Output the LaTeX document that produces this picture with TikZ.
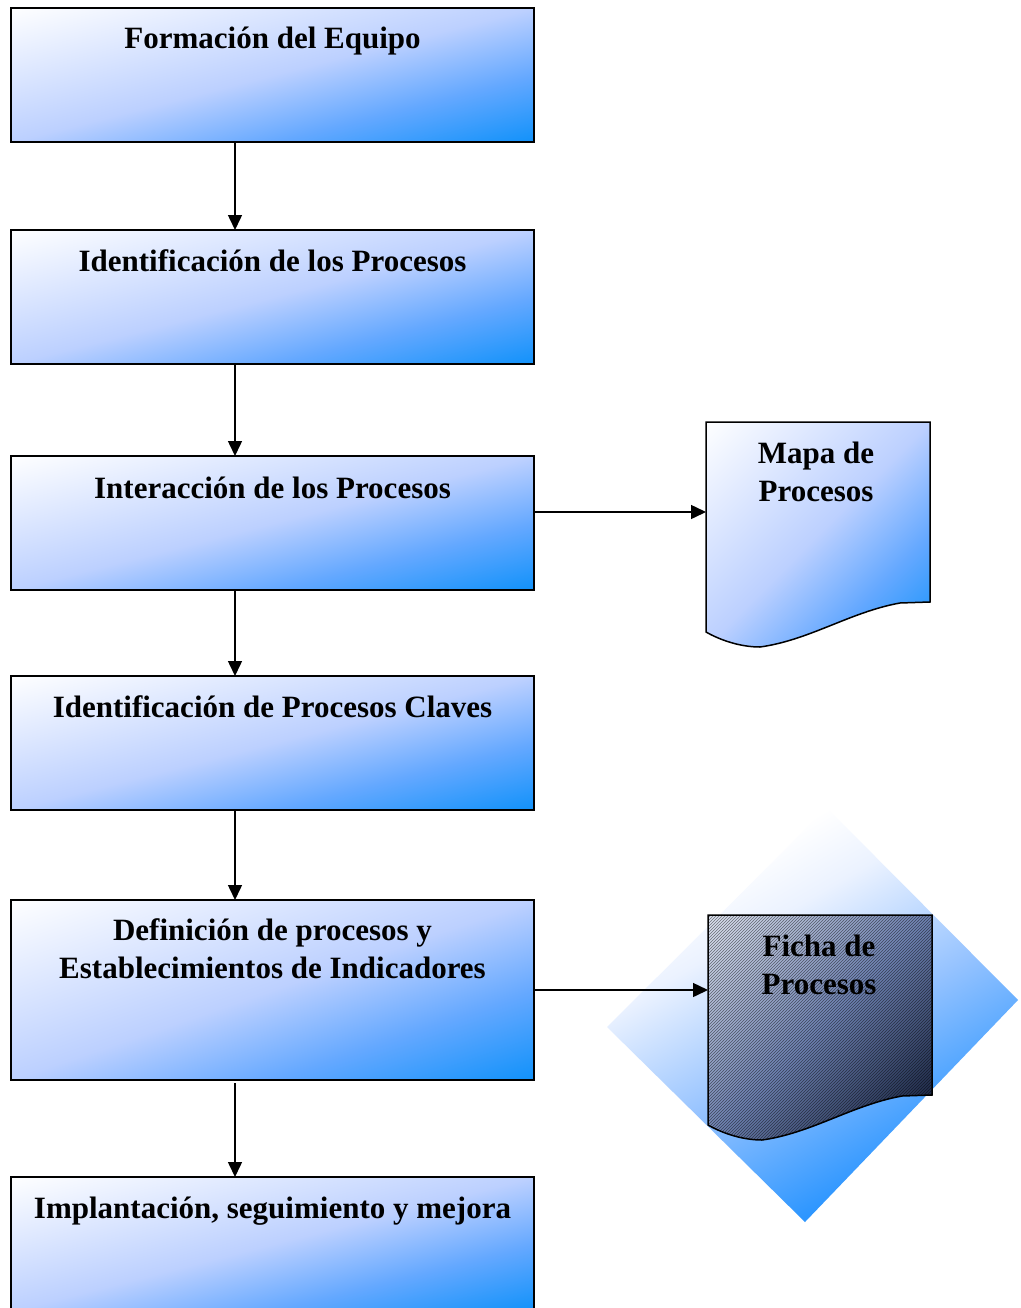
\documentclass[tikz,border=0pt]{standalone}
\usepackage{fontspec}
\setmainfont{Liberation Serif}
\usetikzlibrary{arrows.meta,patterns,backgrounds}
\definecolor{bm}{RGB}{188,208,255}
\definecolor{bq}{RGB}{100,168,255}
\definecolor{bb}{RGB}{15,145,250}
\definecolor{dp}{RGB}{235,242,255}
\definecolor{dm}{RGB}{150,195,255}
\definecolor{db}{RGB}{45,150,255}
\definecolor{fl}{RGB}{225,230,242}
\definecolor{fm}{RGB}{110,130,178}
\definecolor{fb}{RGB}{10,20,45}
\pgfdeclareverticalshading{diagsh}{100bp}{color(0bp)=(bb); color(25bp)=(bq); color(50bp)=(bm); color(100bp)=(white)}
\pgfdeclareverticalshading{diash}{100bp}{color(0bp)=(db); color(20bp)=(db); color(45bp)=(dm); color(68bp)=(dp); color(80bp)=(white); color(100bp)=(white)}
\pgfdeclareverticalshading{fichsh}{100bp}{color(0bp)=(fb); color(50bp)=(fm); color(100bp)=(fl)}
\begin{document}
\begin{tikzpicture}[x=1pt,y=-1pt,
  grad/.style n args={3}{path picture={
    \begin{scope}[shift={(path picture bounding box.center)}, xscale=#2, yscale=#3, rotate=45]
      \node[transform shape, inner sep=0pt, outer sep=0pt] {\pgfuseshading{#1}};
    \end{scope}}},
  box/.style={draw=black, line width=1.5pt, rectangle, minimum width=523pt, minimum height=134pt,
    anchor=north west, inner sep=0pt, outer sep=0pt},
  lbl/.style={font=\bfseries\fontsize{31}{38}\selectfont, align=center, anchor=base, inner sep=0pt},
  arr/.style={line width=1.5pt, -{Triangle[length=15pt,width=14pt]}},
  doc/.style={draw=black, line width=1.5pt, line join=miter}]
\useasboundingbox (0,0) rectangle (1020,1308);

% main boxes
\node[box] (b1) at (11,8) {};
\node[box] (b2) at (11,230) {};
\node[box] (b3) at (11,456) {};
\node[box] (b4) at (11,676) {};
\node[box, minimum height=180pt] (b5) at (11,900) {};
\node[box] (b6) at (11,1177) {};

\begin{pgfonlayer}{background}
  \fill[white] (0,0) rectangle (1020,1308);
  \path[grad={diagsh}{7.45}{1.91}] (b1.north west) rectangle (b1.south east);
  \path[grad={diagsh}{7.45}{1.91}] (b2.north west) rectangle (b2.south east);
  \path[grad={diagsh}{7.45}{1.91}] (b3.north west) rectangle (b3.south east);
  \path[grad={diagsh}{7.45}{1.91}] (b4.north west) rectangle (b4.south east);
  \path[grad={diagsh}{7.45}{2.56}] (b5.north west) rectangle (b5.south east);
  \path[grad={diagsh}{7.45}{1.91}] (b6.north west) rectangle (b6.south east);
\end{pgfonlayer}

\node[lbl] (t1) at ([yshift=-41pt]b1.north) {Formación del Equipo};
\node[lbl] (t2) at ([yshift=-41pt]b2.north) {Identificación de los Procesos};
\node[lbl] (t3) at ([yshift=-42pt]b3.north) {Interacción de los Procesos};
\node[lbl] (t4) at ([yshift=-41pt]b4.north) {Identificación de Procesos Claves};
\node[lbl] (t5) at ([yshift=-78pt]b5.north) {Definición de procesos y\\Establecimientos de Indicadores};
\node[lbl] (t6) at ([yshift=-41pt]b6.north) {Implantación, seguimiento y mejora};

% vertical arrows
\coordinate (ax) at (235,0);
\draw[arr] (ax |- b1.south) -- (ax |- b2.north);
\draw[arr] (ax |- b2.south) -- (ax |- b3.north);
\draw[arr] (ax |- b3.south) -- (ax |- b4.north);
\draw[arr] (ax |- b4.south) -- (ax |- b5.north);
\draw[arr, shorten <=3pt] (ax |- b5.south) -- (ax |- b6.north);

% Mapa de Procesos document
\path[doc, grad={diagsh}{3.19}{3.2}, shift={(706,422)}]
  (0,0) -- (224,0) -- (224,180) -- (194,181) .. controls (144,190) and (104,218) .. (54,225)
  .. controls (34,225) and (14,218) .. (0,210) -- cycle;
\coordinate (mapain) at (706,512);
\draw[arr] (b3.east |- mapain) -- (mapain);
\node[lbl] (tm) at (816,501) {Mapa de\\Procesos};

% Ficha de Procesos: diamond backdrop
\path[path picture={
    \begin{scope}[shift={(path picture bounding box.center)}, xscale=5.63, yscale=5.68, rotate=30]
      \node[transform shape, inner sep=0pt, outer sep=0pt] {\pgfuseshading{diash}};
    \end{scope}}]
  (827,808) -- (1018,1000) -- (805,1222) -- (607,1027) -- cycle;
\coordinate (fichain) at (708,990);
\draw[arr] (b5.east |- fichain) -- (fichain);
\path[grad={fichsh}{3.19}{3.2}, shift={(708,915)}]
  (0,0) -- (224,0) -- (224,180) -- (194,181) .. controls (144,190) and (104,218) .. (54,225)
  .. controls (34,225) and (14,218) .. (0,210) -- cycle;
\path[pattern=north east lines, pattern color=black, opacity=0.5, shift={(708,915)}]
  (0,0) -- (224,0) -- (224,180) -- (194,181) .. controls (144,190) and (104,218) .. (54,225)
  .. controls (34,225) and (14,218) .. (0,210) -- cycle;
\path[doc, shift={(708,915)}]
  (0,0) -- (224,0) -- (224,180) -- (194,181) .. controls (144,190) and (104,218) .. (54,225)
  .. controls (34,225) and (14,218) .. (0,210) -- cycle;
\node[lbl] (tf) at (819,994) {Ficha de\\Procesos};
\end{tikzpicture}
\end{document}
